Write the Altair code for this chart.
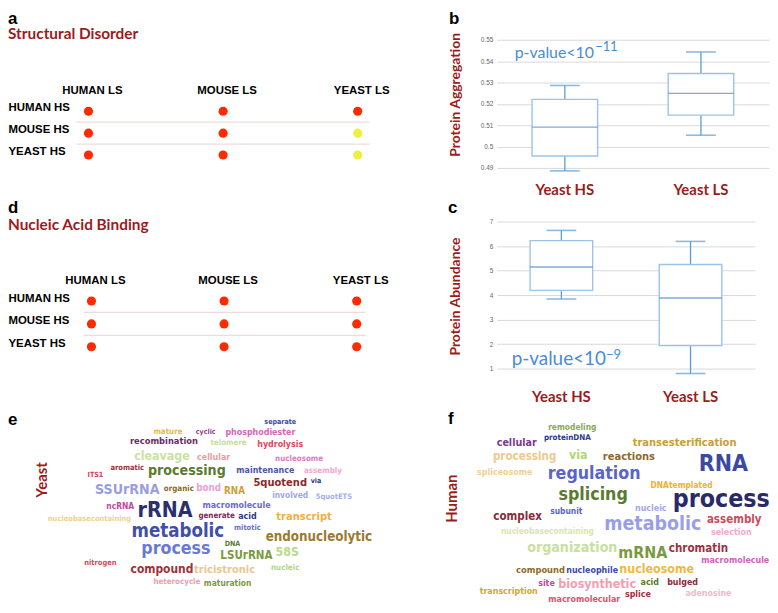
import altair as alt
import pandas as pd

# ---------------- data ----------------
ls_cols = ["HUMAN LS", "MOUSE LS", "YEAST LS"]
hs_rows = ["HUMAN HS", "MOUSE HS", "YEAST HS"]
# row-major significance (yes = red, no = yellow)
disorder_sig = ["yes", "yes", "yes", "yes", "yes", "no", "yes", "yes", "no"]
nab_sig = ["yes", "yes", "yes", "yes", "yes", "yes", "yes", "yes", "yes"]

box_groups = ["Yeast HS", "Yeast LS"]
agg_min = [0.4886, 0.5053]
agg_q1 = [0.4956, 0.5147]
agg_med = [0.5091, 0.5249]
agg_q3 = [0.5221, 0.5342]
agg_max = [0.5286, 0.5443]
agg_ticks = [0.49, 0.50, 0.51, 0.52, 0.53, 0.54, 0.55]

abd_min = [3.84, 0.80]
abd_q1 = [4.19, 1.94]
abd_med = [5.15, 3.88]
abd_q3 = [6.22, 5.25]
abd_max = [6.64, 6.19]
abd_ticks = [1, 2, 3, 4, 5, 6, 7]

# word cloud e (Yeast)
e_words = ["separate", "mature", "cyclic", "phosphodiester", "recombination", "telomere",
           "hydrolysis", "cleavage", "cellular", "nucleosome", "aromatic", "processing",
           "maintenance", "assembly", "ITS1", "SSUrRNA", "organic", "bond", "RNA", "5quotend",
           "via", "involved", "5quotETS", "ncRNA", "rRNA", "macromolecule", "generate", "acid",
           "transcript", "nucleobasecontaining", "metabolic", "mitotic", "endonucleolytic", "DNA",
           "process", "LSUrRNA", "58S", "nitrogen", "compound", "tricistronic", "nucleic",
           "heterocycle", "maturation"]
e_weight = [8, 9, 8, 10, 10.5, 9, 10, 14, 10, 9, 8.5, 16, 10, 9, 8, 16, 9, 11, 11, 12.5,
            8, 9.5, 8.5, 9.5, 24, 10, 9, 10, 12.5, 8.5, 21, 8.5, 15, 8, 20, 13, 14, 8.5,
            13.5, 12.5, 9, 9, 9.5]
e_x = [282, 169, 207, 262, 165, 230, 282, 163, 215, 301, 128, 188, 267, 325, 96, 128, 180,
       210, 236, 282, 318, 292, 336, 121, 166, 238, 218, 249, 306, 90, 179, 249, 321, 234,
       177, 248, 289, 101, 163, 226, 287, 178, 229]
e_y = [425, 435, 435, 435, 445, 447, 448, 460, 461, 463, 472, 475, 474, 475, 480, 495, 494,
       493, 496, 488, 486, 500, 502, 511, 517, 510, 522, 522, 523, 525, 537, 534, 543, 550,
       555, 563, 559, 570, 576, 577, 575, 589, 590]
e_colors = ["#3b4a9b", "#e8b84a", "#9a3b8a", "#d766b5", "#6b2a6a", "#c5df9a", "#d9475a",
            "#c9e2a5", "#f29aa0", "#e27ac0", "#a03040", "#5b7a30", "#4a55a0", "#f0a8d0",
            "#d04050", "#9a9ee0", "#8b6a2a", "#f0a0d0", "#c9a030", "#8b2a2a", "#2a3a8a",
            "#a0a8e8", "#a0b0e8", "#c04a9a", "#2b2f6b", "#6a6ad0", "#7a2a5a", "#2a3a7a",
            "#f0b040", "#f0d090", "#4050a8", "#6a70d0", "#9a7a30", "#5a7a30", "#6a78d8",
            "#7a9a40", "#b8dc8a", "#d44a5a", "#a03038", "#e8c890", "#b0d880", "#f0a0b0",
            "#7a9a40"]

# word cloud f (Human)
f_words = ["remodeling", "proteinDNA", "cellular", "transesterification", "processing", "via",
           "reactions", "RNA", "spliceosome", "regulation", "DNAtemplated", "splicing",
           "process", "subunit", "nucleic", "complex", "metabolic", "assembly", "selection",
           "nucleobasecontaining", "organization", "mRNA", "chromatin", "macromolecule",
           "compound", "nucleophile", "nucleosome", "site", "biosynthetic", "acid", "bulged",
           "transcription", "macromolecular", "splice", "adenosine"]
f_weight = [9.5, 9, 12, 12.5, 13, 14, 12.5, 26, 10, 20, 9.5, 20, 28, 9.5, 10, 13, 22, 13,
            10, 9.5, 16, 18, 13, 10, 10.5, 10, 14, 10, 14, 10, 10, 10, 10, 10, 10]
f_x = [576, 571, 520, 689, 528, 582, 633, 728, 508, 598, 686, 597, 726, 570, 655, 521, 657,
       739, 736, 551, 576, 647, 703, 740, 544, 596, 661, 550, 601, 654, 687, 512, 588, 642, 713]
f_y = [430, 442, 447, 447, 461, 459, 461, 468, 476, 479, 490, 500, 505, 516, 513, 523, 530,
       526, 538, 537, 554, 560, 555, 567, 577, 577, 576, 590, 591, 589, 589, 599, 607, 602, 601]
f_colors = ["#8aaa50", "#2a3a8a", "#7a3a8a", "#c8a030", "#f0c890", "#b0d870", "#8b6a2a",
            "#3a4aa0", "#f0d090", "#5a64c8", "#f0b030", "#5a7a30", "#2a2a6a", "#5a64c8",
            "#a0a8e8", "#8b2a3a", "#9a9ee8", "#d04a5a", "#f0a8d0", "#d8e8a8", "#c8e0a0",
            "#7a9a40", "#a03040", "#d060c0", "#8b6a2a", "#3a4aa0", "#f0b840", "#c04a9a",
            "#f0a0b0", "#5a7a30", "#8b2a3a", "#d0a830", "#e05070", "#a03040", "#f0b8c8"]

# ---------------- style ----------------
DARKRED = "#9b1c1c"
TITLE_FONT = "Lato"
AX_FONT = "Liberation Sans"
CLOUD_FONT = "Liberation Sans Narrow, DejaVu Sans Condensed, sans-serif"
RED = "#ff2a00"
YELLOW = "#eef040"
PBLUE = "#4a8bd6"
LEFT_W = 492
CLOUD_SCALE = 0.89


def note(text, x, y, size, color="black", font=AX_FONT, weight="bold", align="left",
         baseline="top", angle=0):
    return alt.Chart(pd.DataFrame({"t": [text]})).mark_text(
        font=font, fontSize=size, fontWeight=weight, color=color, align=align,
        baseline=baseline, angle=angle
    ).encode(x=alt.value(x), y=alt.value(y), text="t:N")


def dot_panel(sig, letter, title, x_range, y_range, header_y, row_off, sep_pad, title_y, H):
    df = pd.DataFrame({"row": [r for r in hs_rows for _ in ls_cols],
                       "col": [c for _ in hs_rows for c in ls_cols],
                       "sig": sig})
    ydom = [hs_rows[0], "sep1", hs_rows[1], "sep2", hs_rows[2]]
    xs = alt.Scale(type="point", domain=ls_cols, range=x_range, padding=0)
    ys = alt.Scale(type="point", domain=ydom, range=y_range, padding=0)
    yaxis = alt.Axis(orient="left", values=hs_rows, title=None, ticks=False, tickSize=0,
                     domain=False, grid=False, labelPadding=0, labelAlign="left",
                     labelOffset=row_off, labelFont=AX_FONT, labelFontSize=11.5,
                     labelFontWeight="bold", labelColor="black")
    sep_df = pd.DataFrame({"row": ["sep1", "sep2"], "c1": [ls_cols[0]] * 2,
                           "c2": [ls_cols[-1]] * 2})
    seps = alt.Chart(sep_df).mark_rule(
        color="#ecdcdc", strokeWidth=1.3, xOffset=-sep_pad[0], x2Offset=sep_pad[1]
    ).encode(x=alt.X("c1:N", scale=xs, axis=None), x2="c2",
             y=alt.Y("row:N", scale=ys, axis=yaxis))
    dots = alt.Chart(df).mark_circle(size=85, opacity=1).encode(
        x=alt.X("col:N", scale=xs, axis=None),
        y=alt.Y("row:N", scale=ys, axis=yaxis),
        color=alt.Color("sig:N", scale=alt.Scale(domain=["yes", "no"], range=[RED, YELLOW]),
                        legend=None),
    )
    headers = alt.Chart(pd.DataFrame({"col": ls_cols})).mark_text(
        font=AX_FONT, fontSize=11.5, fontWeight="bold", color="black", baseline="middle",
        dx=4
    ).encode(x=alt.X("col:N", scale=xs, axis=None), y=alt.value(header_y), text="col:N")
    return alt.layer(
        seps, dots, headers,
        note(letter, 0, 0, 17),
        note(title, 0, title_y, 15.5, color=DARKRED, font=TITLE_FONT, baseline="middle"),
    ).properties(width=LEFT_W, height=H)


def box_panel(mn, q1, md, q3, mx, ticks, fmt, dom, W, H, letter, letter_x, title, title_x,
              title_y, pv_xy, pv_size, sup, sup_dx, sup_dy, lab_pad, box_w):
    df = pd.DataFrame({"g": box_groups, "mn": mn, "q1": q1, "md": md, "q3": q3, "mx": mx})
    xs = alt.Scale(domain=box_groups, paddingInner=0, paddingOuter=0)
    xaxis = alt.Axis(orient="bottom", title=None, labelAngle=0, ticks=False, tickSize=0,
                     domain=False, grid=False, labelPadding=lab_pad, labelFont=TITLE_FONT,
                     labelFontSize=15, labelFontWeight="bold", labelColor=DARKRED)
    ys = alt.Scale(domain=dom, nice=False, zero=False)
    yaxis = alt.Axis(values=ticks, format=fmt, grid=True, gridColor="#d9d9d9", gridWidth=1,
                     domain=False, ticks=False, tickSize=0, labelFont=AX_FONT,
                     labelFontSize=6.5, labelColor="#666666", labelPadding=4, title=title,
                     titleColor=DARKRED, titleFont=TITLE_FONT, titleFontSize=14,
                     titleFontWeight="bold", titleX=title_x, titleY=title_y,
                     titleBaseline="middle")
    X = alt.X("g:N", scale=xs, axis=xaxis, sort=box_groups)

    def Y(f):
        return alt.Y(f + ":Q", scale=ys, axis=yaxis)

    base = alt.Chart(df)
    whisk = base.mark_rule(color="#5b9bd5", strokeWidth=1.3).encode(x=X, y=Y("mn"), y2="mx")
    cap_lo = base.mark_tick(color="#5b9bd5", size=30, thickness=1.6).encode(x=X, y=Y("mn"))
    cap_hi = base.mark_tick(color="#5b9bd5", size=30, thickness=1.6).encode(x=X, y=Y("mx"))
    box = base.mark_bar(size=box_w, fill="white", stroke="#9cc2ea", strokeWidth=1.4).encode(
        x=X, y=Y("q1"), y2="q3")
    med = base.mark_tick(color="#4a86c8", size=box_w, thickness=1.5).encode(x=X, y=Y("md"))
    return alt.layer(
        whisk, cap_lo, cap_hi, box, med,
        note(letter, letter_x, 0, 17),
        note("p-value<10", pv_xy[0], pv_xy[1], pv_size, color=PBLUE, font=TITLE_FONT,
             weight="normal", baseline="middle"),
        note(sup, pv_xy[0] + sup_dx, pv_xy[1] - sup_dy, 13, color=PBLUE, font=TITLE_FONT,
             weight="normal", baseline="middle"),
    ).properties(width=W, height=H)


def cloud_panel(words, weight, wx, wy, colors, xdom, W, H, letter, letter_xy, label, label_xy):
    df = pd.DataFrame({"w": words, "s": weight, "x": wx, "y": wy, "c": colors})
    words_layer = alt.Chart(df).mark_text(
        font=CLOUD_FONT, fontWeight="bold", align="center", baseline="middle"
    ).encode(
        x=alt.X("x:Q", scale=alt.Scale(domain=xdom, range=[0, W]), axis=None),
        y=alt.Y("y:Q", scale=alt.Scale(domain=[408, 612], range=[0, H]), axis=None),
        text="w:N",
        size=alt.Size("s:Q", scale=alt.Scale(type="linear", domain=[0, 30],
                                             range=[0, 30 * CLOUD_SCALE]), legend=None),
        color=alt.Color("c:N", scale=None),
    )
    return alt.layer(
        words_layer,
        note(letter, letter_xy[0], letter_xy[1], 17, baseline="middle"),
        note(label, label_xy[0], label_xy[1], 15, color=DARKRED, font=TITLE_FONT,
             align="center", baseline="middle", angle=270),
    ).properties(width=W, height=H)


panel_a = dot_panel(disorder_sig, "a", "Structural Disorder", [81, 352], [101, 145], 81, -4,
                    (12, 12), 23, 190)
panel_b = box_panel(agg_min, agg_q1, agg_med, agg_q3, agg_max, agg_ticks, ".2~f",
                    [0.49, 0.5635], 274, 158, "b", -48, "Protein Aggregation", -42, 84,
                    (18, 42), 16, "\u221211", 81, 6, 15, 66)
panel_d = dot_panel(nab_sig, "d", "Nucleic Acid Binding", [84, 351], [102, 148], 82, -3,
                    (8, 9), 25, 207)
panel_c = box_panel(abd_min, abd_q1, abd_med, abd_q3, abd_max, abd_ticks, "d",
                    [1, 7.892], 260, 170, "c", -49, "Protein Abundance", -42, 97,
                    (15, 160), 19, "\u22129", 95, 4, 21, 63)
panel_e = cloud_panel(e_words, e_weight, e_x, e_y, e_colors, [8, 8 + LEFT_W], LEFT_W, 200,
                      "e", (0, 15), "Yeast", (34, 75))
panel_f = cloud_panel(f_words, f_weight, f_x, f_y, f_colors, [8 + LEFT_W, 770], 270, 200,
                      "f", (-49, 14), "Human", (-45, 94))

chart = alt.concat(panel_a, panel_b, panel_d, panel_c, panel_e, panel_f, columns=2,
                   spacing=0, bounds="flush").properties(
    padding=0, background="white"
).configure_view(stroke=None).resolve_scale(size="independent")

chart.save("out.html", embed_options={"renderer": "svg", "actions": False})
